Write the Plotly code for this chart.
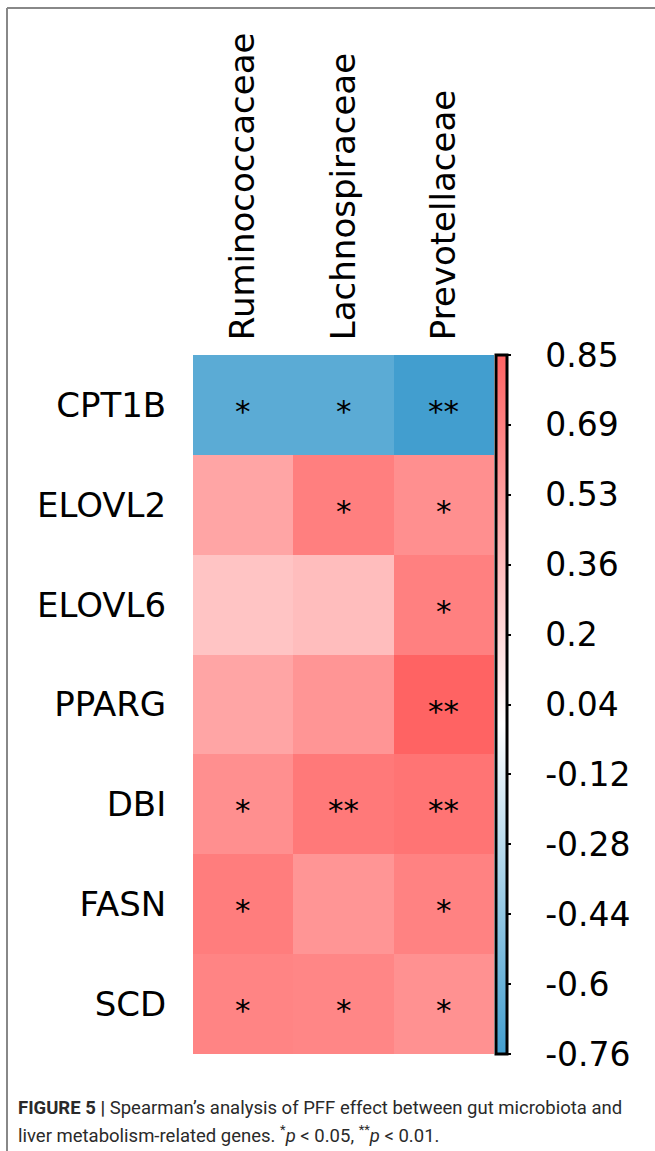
import plotly.graph_objects as go

# ---------------- data ----------------
families = ["Ruminococcaceae", "Lachnospiraceae", "Prevotellaceae"]
genes = ["CPT1B", "ELOVL2", "ELOVL6", "PPARG", "DBI", "FASN", "SCD"]

rho_ruminococcaceae = [-0.66, 0.49, 0.32, 0.49, 0.61, 0.71, 0.67]
rho_lachnospiraceae = [-0.66, 0.70, 0.36, 0.58, 0.73, 0.58, 0.66]
rho_prevotellaceae = [-0.76, 0.61, 0.69, 0.85, 0.76, 0.68, 0.60]

sig_ruminococcaceae = ["*", "", "", "", "*", "*", "*"]
sig_lachnospiraceae = ["*", "*", "", "", "**", "", "*"]
sig_prevotellaceae = ["**", "*", "*", "**", "**", "*", "*"]

cbar_ticks = [0.85, 0.69, 0.53, 0.36, 0.2, 0.04, -0.12, -0.28, -0.44, -0.6, -0.76]
zmin, zmax = -0.76, 0.85

caption_line1 = "<b>FIGURE 5 |</b> Spearman\u2019s analysis of PFF effect between gut microbiota and"
caption_line2 = "liver metabolism-related genes. <sup>*</sup><i>p</i> &lt; 0.05, <sup>**</sup><i>p</i> &lt; 0.01."

# ---------------- build ----------------
cols = [rho_ruminococcaceae, rho_lachnospiraceae, rho_prevotellaceae]
sigs = [sig_ruminococcaceae, sig_lachnospiraceae, sig_prevotellaceae]
z = [[cols[j][i] for j in range(3)] for i in range(len(genes))]

W, H = 655, 1151
L, R, T, B = 193, 494, 355, 1054
pw, ph = R - L, B - T

def px_x(px):
    return (px - L) / pw

def px_y(py):
    return (B - py) / ph

white_pos = (0 - zmin) / (zmax - zmin)
colorscale = [
    [0.0, "rgb(66,158,207)"],
    [white_pos, "rgb(255,255,255)"],
    [1.0, "rgb(255,99,99)"],
]

cb_step = (zmax - zmin) / (len(cbar_ticks) - 1)
tickvals = [zmax - k * cb_step for k in range(len(cbar_ticks))]
ticktext = ["\u00a0\u00a0\u2009" + str(t) for t in cbar_ticks]

fig = go.Figure()
fig.add_trace(go.Heatmap(
    z=z, x=families, y=genes,
    zmin=zmin, zmax=zmax, colorscale=colorscale,
    xgap=0, ygap=0, hoverinfo="skip",
    colorbar=dict(
        x=px_x(495.5), xanchor="left", xpad=0,
        y=0.5, yanchor="middle", ypad=0,
        len=1.0, lenmode="fraction",
        thickness=11,
        outlinewidth=3, outlinecolor="black",
        tickmode="array", tickvals=tickvals, ticktext=ticktext,
        ticks="outside", ticklen=3, tickwidth=2, tickcolor="black",
        tickfont=dict(family="DejaVu Sans", size=33, color="black"),
    ),
))

annotations = []
for j, fam in enumerate(families):
    for i, g in enumerate(genes):
        s = sigs[j][i]
        if s:
            annotations.append(dict(
                x=fam, y=g, xref="x", yref="y", text=s, showarrow=False,
                font=dict(family="DejaVu Sans", size=31, color="black"),
                xanchor="center", yanchor="middle", yshift=-6,
            ))

cap_font = dict(family="Roboto, Arial", size=18.5, color="#2a2a2a")
annotations.append(dict(
    xref="paper", yref="paper", x=px_x(16), y=px_y(1108), xanchor="left", yanchor="middle",
    text=caption_line1, showarrow=False, align="left", font=cap_font,
))
annotations.append(dict(
    xref="paper", yref="paper", x=px_x(16), y=px_y(1134), xanchor="left", yanchor="middle",
    text=caption_line2, showarrow=False, align="left", font=cap_font,
))

shapes = [
    dict(type="line", xref="paper", yref="paper", x0=px_x(7), x1=px_x(7), y0=px_y(8), y1=px_y(1151),
         line=dict(color="#888", width=2)),
    dict(type="line", xref="paper", yref="paper", x0=px_x(7), x1=px_x(655), y0=px_y(8), y1=px_y(8),
         line=dict(color="#888", width=2)),
]

fig.update_layout(
    width=W, height=H,
    margin=dict(l=L, r=W - R, t=T, b=H - B, pad=0),
    paper_bgcolor="white", plot_bgcolor="white",
    annotations=annotations, shapes=shapes,
    xaxis=dict(side="top", tickangle=-90, range=[-0.5, 2.5], showgrid=False, zeroline=False,
               ticks="outside", ticklen=7, tickcolor="rgba(0,0,0,0)",
               tickfont=dict(family="DejaVu Sans", size=34, color="black"), showline=False),
    yaxis=dict(autorange=False, range=[6.5, -0.5], showgrid=False, zeroline=False,
               ticks="outside", ticklen=19, tickcolor="rgba(0,0,0,0)",
               tickfont=dict(family="DejaVu Sans", size=34, color="black"), showline=False),
    showlegend=False,
)

fig.write_html("out.html", config={"displayModeBar": False},
               post_script="document.body.style.margin='0';document.body.style.overflow='hidden';")
